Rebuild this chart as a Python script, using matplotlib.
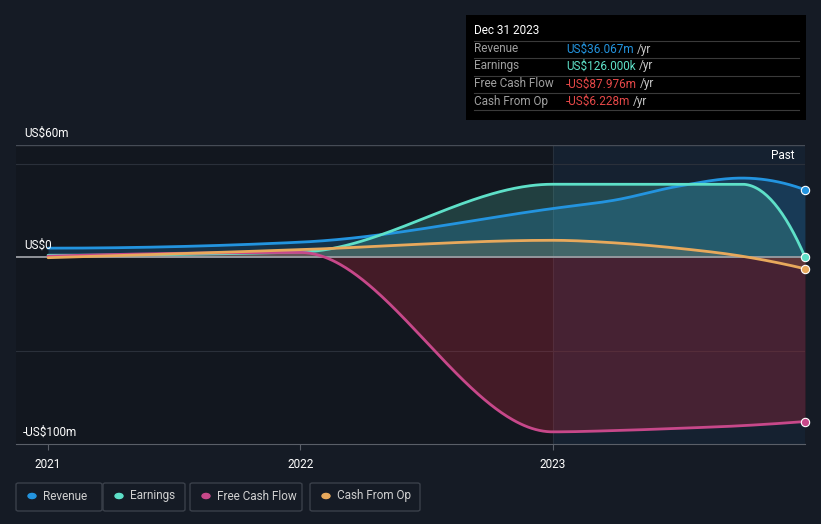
import numpy as np
import matplotlib
matplotlib.use("Agg")
import matplotlib.pyplot as plt
from matplotlib.patches import Rectangle, FancyBboxPatch

plt.rcParams['font.family'] = ['Roboto', 'DejaVu Sans']

# data in US$ millions
years = [2021.0, 2022.0, 2023.0, 2023.25, 2023.5, 2023.75, 2024.0]
revenue = [4.8, 8.0, 26.0, 30.6, 38.0, 42.3, 36.067]
earnings = [1.0, 2.7, 39.0, 39.0, 39.0, 39.0, 0.126]
free_cash_flow = [0.5, 2.5, -93.5, -92.8, -91.6, -90.2, -87.976]
cash_from_op = [-0.3, 4.0, 9.0, 7.6, 4.7, 0.5, -6.228]

names = ['Revenue', 'Earnings', 'Free Cash Flow', 'Cash From Op']
colors = ['#2394df', '#5ee0c8', '#c7488a', '#e8a95c']
tip_values = ['US$36.067m', 'US$126.000k', '-US$87.976m', '-US$6.228m']
tip_colors = ['#2394df', '#5ee0c8', '#e64848', '#e64848']

BG = '#151b25'
FS = 8.5


def monotone(x, y, n=400):
    """monotone cubic curve through the points (like d3 curveMonotoneX)"""
    x = np.asarray(x, float)
    y = np.asarray(y, float)
    h = np.diff(x)
    s = np.diff(y) / h
    m = np.zeros_like(y)
    for i in range(1, len(y) - 1):
        if s[i - 1] * s[i] > 0:
            p = (s[i - 1] * h[i] + s[i] * h[i - 1]) / (h[i - 1] + h[i])
            m[i] = (np.sign(s[i - 1]) + np.sign(s[i])) * min(abs(s[i - 1]), abs(s[i]), 0.5 * abs(p))
    m[0] = 2 * s[0] - m[1]
    m[-1] = 2 * s[-1] - m[-2]
    if m[0] * s[0] < 0:
        m[0] = 0
    if m[-1] * s[-1] < 0:
        m[-1] = 0
    xs = np.linspace(x[0], x[-1], n)
    idx = np.clip(np.searchsorted(x, xs) - 1, 0, len(x) - 2)
    t = (xs - x[idx]) / h[idx]
    h00 = 2 * t**3 - 3 * t**2 + 1
    h10 = t**3 - 2 * t**2 + t
    h01 = -2 * t**3 + 3 * t**2
    h11 = t**3 - t**2
    ys = h00 * y[idx] + h10 * h[idx] * m[idx] + h01 * y[idx + 1] + h11 * h[idx] * m[idx + 1]
    return xs, ys


fig = plt.figure(figsize=(8.21, 5.24), dpi=100, facecolor=BG)
ax = fig.add_axes([16 / 821, 80 / 524, 789 / 821, 299 / 524])
ax.set_facecolor('#12171f')
ax.set_xlim(2020.873, 2024.0)
ax.set_ylim(-100, 60)

# past region
ax.axvspan(2023.0, 2024.0, color='#1c3a58', alpha=0.3, lw=0, zorder=0)
ax.axvline(2023.0, color='#26303c', lw=0.8, zorder=0.5)

for v in [50, -50]:
    ax.axhline(v, color='#2a303a', lw=0.8, zorder=0.6)
ax.axhline(60, color='#464c56', lw=1, zorder=0.6)

fill_alpha = [0.22, 0.2, 0.28, 0.15]
fill_colors = ['#2394df', '#5ee0c8', '#c8283c', '#e8a95c']
series = [revenue, earnings, free_cash_flow, cash_from_op]
for vals, fc, a in zip(series, fill_colors, fill_alpha):
    xs, ys = monotone(years, vals)
    ax.fill_between(xs, 0, ys, color=fc, alpha=a, lw=0, zorder=1)
for vals, c in zip(series, colors):
    xs, ys = monotone(years, vals)
    ax.plot(xs, ys, color=c, lw=2, zorder=3, solid_capstyle='round')
    ax.plot(years[-1], vals[-1], 'o', ms=6, color=c, mec='white', mew=0.8,
            zorder=5, clip_on=False)

ax.axhline(0, color='#9a9ca2', lw=1.3, zorder=2)

for s in ['top', 'right', 'left']:
    ax.spines[s].set_visible(False)
ax.spines['bottom'].set_color('#5a5f68')
ax.set_yticks([])
ax.set_xticks([2021, 2022, 2023])
ax.set_xticklabels(['2021', '2022', '2023'])
ax.tick_params(axis='x', colors='#5a5f68', length=4, labelcolor='white',
               labelsize=FS, pad=6)

ytr = ax.get_yaxis_transform()
ax.text(0.011, 63, 'US$60m', transform=ytr, color='white', fontsize=FS, va='bottom')
ax.text(0.011, 3, 'US$0', transform=ytr, color='white', fontsize=FS, va='bottom')
ax.text(0.008, -97, '-US$100m', transform=ytr, color='white', fontsize=FS, va='bottom')
ax.text(2023.96, 54.5, 'Past', color='white', fontsize=FS, ha='right', va='center')

# tooltip box
W, H = 821, 524
fig.patches.append(Rectangle((466 / W, 1 - 120 / H), 340 / W, 105 / H,
                             transform=fig.transFigure, facecolor='black',
                             edgecolor='none', zorder=10))
fig.text(474 / W, 1 - 31 / H, 'Dec 31 2023', color='white', fontsize=FS,
         va='center', zorder=11)
rows_y = [49, 66, 84, 101]
for nm, val, vc, yy in zip(names, tip_values, tip_colors, rows_y):
    fig.lines.append(plt.Line2D([474 / W, 799 / W], [1 - (yy - 8) / H] * 2,
                                transform=fig.transFigure, color='#3a3a3a', lw=0.8, zorder=11))
    fig.text(474 / W, 1 - yy / H, nm, color='#a0a0a0', fontsize=FS, va='center', zorder=11)
    t = fig.text(566 / W, 1 - yy / H, val, color=vc, fontsize=FS, va='center', zorder=11)
    fig.canvas.draw()
    bb = t.get_window_extent()
    fig.text(bb.x1 / W + 3 / W, 1 - yy / H, '/yr', color='#c8c8c8', fontsize=FS,
             va='center', zorder=11)
fig.lines.append(plt.Line2D([474 / W, 799 / W], [1 - 110 / H] * 2,
                            transform=fig.transFigure, color='#3a3a3a', lw=0.8, zorder=11))

# legend boxes
boxes = [(16, 102), (103, 185), (190, 302), (310, 420)]
for (x0, x1), nm, c in zip(boxes, names, colors):
    fig.patches.append(FancyBboxPatch((x0 / W, 1 - 511 / H), (x1 - x0) / W, 28 / H,
                                      boxstyle='round,pad=0,rounding_size=0.003',
                                      transform=fig.transFigure, facecolor='none',
                                      edgecolor='#3a404a', lw=1))
    fig.patches.append(plt.Circle(((x0 + 16) / W, 1 - 496 / H), 4 / W,
                                  transform=fig.transFigure, color=c))
    fig.text((x0 + 27) / W, 1 - 496 / H, nm, color='#d0d0d0', fontsize=FS, va='center')

fig.savefig('out.png', dpi=100, facecolor=BG)
